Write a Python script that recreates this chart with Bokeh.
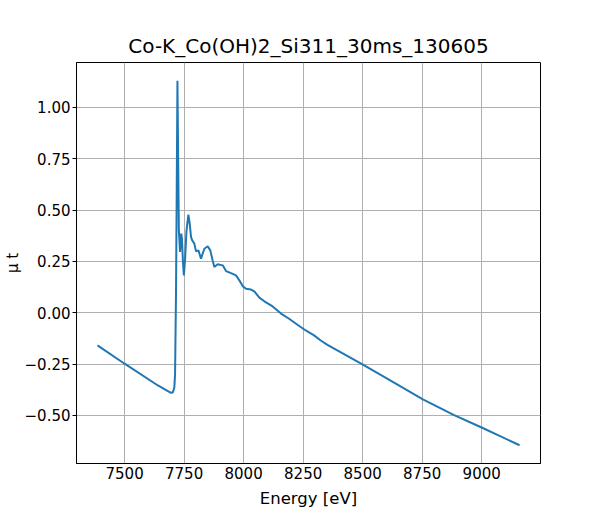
from bokeh.plotting import figure
from bokeh.models import Range1d, FixedTicker, CustomJSTickFormatter
from bokeh.embed import file_html
from bokeh.resources import INLINE

title_text = "Co-K_Co(OH)2_Si311_30ms_130605"
x_label = "Energy [eV]"
y_label = "\u03bc t"

energy = [7386, 7500, 7640, 7680, 7696, 7703, 7709, 7712, 7716, 7719, 7722,
          7725, 7728, 7733, 7738, 7741, 7745, 7749, 7754, 7760, 7768, 7774,
          7779, 7784, 7793, 7800, 7810, 7821, 7835, 7849, 7860, 7870, 7877,
          7891, 7912, 7926, 7947, 7968, 7982, 7996, 8010, 8031, 8045, 8066,
          8087, 8122, 8157, 8191, 8226, 8261, 8296, 8324, 8352, 8501, 8603,
          8753, 8882, 9002, 9159]
mu = [-0.159, -0.248, -0.354, -0.380, -0.390, -0.387, -0.362, -0.30, 0.10, 0.60, 1.130,
      0.75, 0.40, 0.296, 0.386, 0.36, 0.25, 0.182, 0.26, 0.40, 0.478, 0.43,
      0.37, 0.353, 0.337, 0.299, 0.304, 0.264, 0.312, 0.324, 0.304, 0.255, 0.223,
      0.236, 0.231, 0.203, 0.193, 0.182, 0.158, 0.130, 0.117, 0.113, 0.104, 0.074,
      0.056, 0.031, -0.004, -0.029, -0.058, -0.086, -0.110, -0.135, -0.156, -0.253, -0.321,
      -0.422, -0.497, -0.560, -0.645]

x_ticks = [7500, 7750, 8000, 8250, 8500, 8750, 9000]
y_ticks = [-0.5, -0.25, 0.0, 0.25, 0.5, 0.75, 1.0]

FONT = "DejaVu Sans"

p = figure(width=592, height=512, output_backend="svg", toolbar_location=None,
           x_range=Range1d(7298, 9247), y_range=Range1d(-0.734, 1.219),
           min_border_left=75, min_border_right=52, min_border_top=62, min_border_bottom=49)

p.line(energy, mu, line_color="#1f77b4", line_width=2)

p.title.text = title_text
p.title.align = "center"
p.title.text_font = FONT
p.title.text_font_size = "20px"
p.title.text_font_style = "normal"
p.title.text_color = "black"

p.outline_line_color = "black"
p.outline_line_width = 1
p.outline_line_alpha = 1

for ax in (p.xaxis[0], p.yaxis[0]):
    ax.axis_line_color = "black"
    ax.major_tick_line_color = "black"
    ax.minor_tick_line_color = None
    ax.major_label_text_font = FONT
    ax.major_label_text_font_size = "15px"
    ax.major_label_text_color = "black"
    ax.axis_label_text_font = FONT
    ax.axis_label_text_font_size = "16.5px"
    ax.axis_label_text_font_style = "normal"
    ax.axis_label_text_color = "black"

p.xaxis.ticker = FixedTicker(ticks=x_ticks)
p.yaxis.ticker = FixedTicker(ticks=y_ticks)
p.xaxis.major_tick_in = 0
p.xaxis.major_tick_out = 0
p.xaxis.major_label_standoff = 3
p.xaxis.axis_label = x_label
p.xaxis.axis_label_standoff = 7
p.yaxis.major_tick_in = 0
p.yaxis.major_tick_out = 4
p.yaxis.major_label_standoff = 2
p.yaxis.axis_label = y_label
p.yaxis.axis_label_standoff = 0
p.yaxis.axis_label_text_font_size = "15px"
p.yaxis.formatter = CustomJSTickFormatter(code="return (tick < 0 ? '\u2212' : '') + Math.abs(tick).toFixed(2);")
p.xaxis.formatter = CustomJSTickFormatter(code="return tick.toFixed(0);")

p.grid.grid_line_color = "#b0b0b0"
p.grid.grid_line_width = 1

open("out.html", "w").write(file_html(p, INLINE))
